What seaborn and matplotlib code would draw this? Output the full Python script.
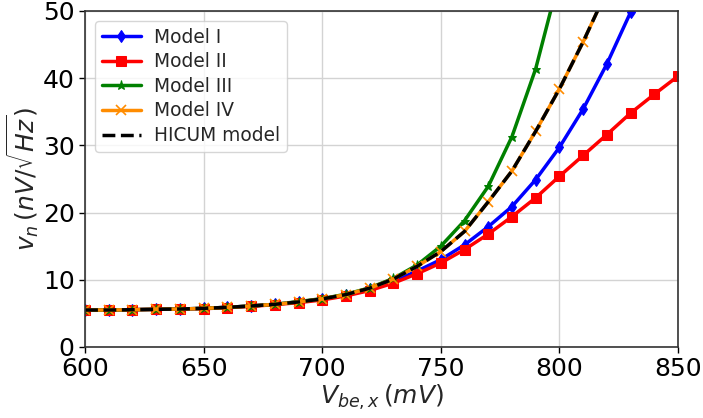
import numpy as np
import pandas as pd
import matplotlib
matplotlib.use("Agg")
import matplotlib.pyplot as plt
import seaborn as sns

# shared low-bias part (600..720 mV)
vbe_low = [600, 610, 620, 630, 640, 650, 660, 670, 680, 690, 700, 710, 720]

vbe_m1 = vbe_low + [730, 740, 750, 760, 770, 780, 790, 800, 810, 820, 830, 840]
vn_m1 = [5.5, 5.5, 5.55, 5.6, 5.65, 5.75, 5.9, 6.1, 6.35, 6.7, 7.15, 7.75, 8.6,
         9.8, 11.3, 13.0, 15.2, 17.9, 20.9, 24.9, 29.7, 35.4, 42.1, 49.8, 58.5]

vbe_m2 = vbe_low + [730, 740, 750, 760, 770, 780, 790, 800, 810, 820, 830, 840, 850]
vn_m2 = [5.5, 5.5, 5.55, 5.6, 5.65, 5.7, 5.85, 6.05, 6.3, 6.6, 7.0, 7.6, 8.4,
         9.5, 10.9, 12.5, 14.5, 16.8, 19.4, 22.2, 25.4, 28.5, 31.6, 34.8, 37.6, 40.3]

vbe_m3 = vbe_low + [730, 740, 750, 760, 770, 780, 790, 800]
vn_m3 = [5.5, 5.5, 5.55, 5.6, 5.65, 5.75, 5.9, 6.1, 6.35, 6.75, 7.2, 7.85, 8.8,
         10.2, 12.2, 15.0, 18.8, 23.9, 31.3, 41.4, 55.0]

vbe_m4 = vbe_low + [730, 740, 750, 760, 770, 780, 790, 800, 810, 820]
vn_m4 = [5.5, 5.5, 5.55, 5.6, 5.65, 5.75, 5.9, 6.1, 6.35, 6.7, 7.15, 7.8, 8.75,
         10.1, 12.0, 14.2, 17.2, 21.6, 26.2, 32.1, 38.4, 45.4, 53.0]

vbe_hicum = vbe_m4
vn_hicum = vn_m4

sns.set_theme(style="ticks")
plt.rcParams['font.family'] = ['DejaVu Sans']

fig, ax = plt.subplots(figsize=(7.03, 4.18), dpi=100)
fig.subplots_adjust(left=0.121, right=0.9644, top=0.9737, bottom=0.1699)

sns.lineplot(x=vbe_m1, y=vn_m1, ax=ax, color='blue', marker='d', markersize=6.5,
             markeredgecolor='blue', linewidth=2.5, label='Model I')
sns.lineplot(x=vbe_m2, y=vn_m2, ax=ax, color='red', marker='s', markersize=6.5,
             markeredgecolor='red', linewidth=2.5, label='Model II')
sns.lineplot(x=vbe_m3, y=vn_m3, ax=ax, color='green', marker='*', markersize=6.5,
             markeredgecolor='green', linewidth=2.5, label='Model III')
sns.lineplot(x=vbe_m4, y=vn_m4, ax=ax, color='darkorange', marker='x', markersize=6.5,
             markeredgecolor='darkorange', markeredgewidth=1.2, linewidth=2.5,
             label='Model IV')
sns.lineplot(x=vbe_hicum, y=vn_hicum, ax=ax, color='black', linestyle='--',
             linewidth=2.5, label='HICUM model')

ax.set_xlim(600, 850)
ax.set_ylim(0, 50)
ax.set_xticks([600, 650, 700, 750, 800, 850])
ax.set_yticks([0, 10, 20, 30, 40, 50])
ax.grid(True, color='#d3d3d3', linewidth=1)
ax.tick_params(labelsize=18, length=4, width=1, colors='black')
for s in ax.spines.values():
    s.set_color('#333333')
    s.set_linewidth(1.2)

ax.set_xlabel(r'$V_{be,x}\,(mV)$', fontsize=18, labelpad=1)
ax.set_ylabel(r'$v_n\,(nV/\sqrt{Hz})$', fontsize=18, labelpad=1)

leg = ax.legend(loc='upper left', fontsize=13.4, handlelength=2.1, framealpha=0.8,
                edgecolor='#cccccc', fancybox=True, borderaxespad=0.55,
                labelspacing=0.3, handletextpad=0.7, borderpad=0.35)

fig.savefig('out.png', dpi=100)
